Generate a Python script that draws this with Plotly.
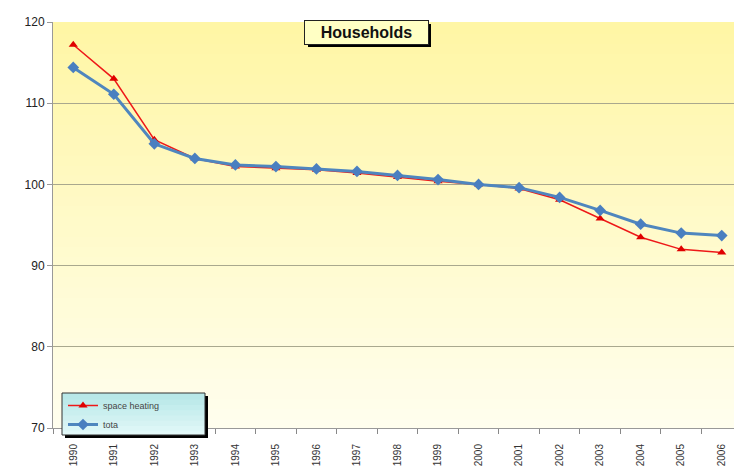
import plotly.graph_objects as go

years = [str(y) for y in range(1990, 2007)]
space_heating = [117.2, 113.0, 105.5, 103.2, 102.2, 102.0, 101.8, 101.4, 100.9, 100.4,
                 100.0, 99.5, 98.1, 95.8, 93.5, 92.0, 91.6]
total = [114.4, 111.1, 105.0, 103.2, 102.4, 102.2, 101.9, 101.6, 101.1, 100.6,
         100.0, 99.6, 98.4, 96.8, 95.1, 94.0, 93.7]
y_ticks = [70, 80, 90, 100, 110, 120]
title_text = "Households"

fig = go.Figure()
fig.add_trace(go.Scatter(x=years, y=space_heating, name="space heating", mode="lines+markers",
                         line=dict(color="#EE1818", width=1.5),
                         marker=dict(symbol="triangle-up", size=8, color="#E00000")))
fig.add_trace(go.Scatter(x=years, y=total, name="tota", mode="lines+markers",
                         line=dict(color="#4F86BE", width=3),
                         marker=dict(symbol="diamond", size=9, color="#4A7FC0")))

W, H = 689, 406  # plot area px


def px(x):
    return (x - 53) / W


def py(y):
    return (428 - y) / H


shapes = []
n = 40
top = (255, 246, 165)
bot = (255, 254, 238)
for i in range(n):
    t = i / (n - 1)
    c = tuple(int(round(bot[k] + (top[k] - bot[k]) * t)) for k in range(3))
    shapes.append(dict(type="rect", xref="paper", yref="paper", x0=0, x1=1,
                       y0=max(0, i / n - 0.004), y1=(i + 1) / n,
                       fillcolor="rgb(%d,%d,%d)" % c,
                       line=dict(width=0), layer="below"))
# legend shadow + box (vertical cyan gradient)
shapes.append(dict(type="rect", xref="paper", yref="paper",
                   x0=px(65), x1=px(208), y0=py(438), y1=py(396),
                   fillcolor="black", line=dict(width=0), layer="above"))
lt = (184, 232, 232)
lb = (226, 248, 248)
m = 8
for i in range(m):
    t = i / (m - 1)
    c = tuple(int(round(lb[k] + (lt[k] - lb[k]) * t)) for k in range(3))
    y0 = 435 - 42 * i / m + (1.5 if i > 0 else 0)
    y1 = 435 - 42 * (i + 1) / m
    shapes.append(dict(type="rect", xref="paper", yref="paper",
                       x0=px(62), x1=px(205), y0=py(y0), y1=py(y1),
                       fillcolor="rgb(%d,%d,%d)" % c, line=dict(width=0), layer="above"))
shapes.append(dict(type="rect", xref="paper", yref="paper",
                   x0=px(62), x1=px(205), y0=py(435), y1=py(393),
                   fillcolor="rgba(0,0,0,0)", line=dict(width=1, color="#333"), layer="above"))
# title shadow
shapes.append(dict(type="rect", xref="paper", yref="paper",
                   x0=px(308), x1=px(431), y0=py(47), y1=py(24),
                   fillcolor="black", line=dict(width=0), layer="above"))

fig.update_layout(
    width=734, height=459,
    margin=dict(l=45, r=0, t=14, b=39),
    paper_bgcolor="white", plot_bgcolor="rgba(0,0,0,0)",
    font=dict(family="Liberation Sans, Arial, sans-serif", color="#222"),
    shapes=shapes,
    showlegend=True,
    legend=dict(x=px(63), y=py(391), xanchor="left", yanchor="top",
                bgcolor="rgba(0,0,0,0)", borderwidth=0,
                font=dict(size=9, color="#444"), tracegroupgap=0, itemwidth=30),
    annotations=[dict(text="<b>" + title_text + "</b>", xref="paper", yref="paper",
                      x=px(366.5), y=py(32.5), xanchor="center", yanchor="middle",
                      showarrow=False,
                      font=dict(size=16, color="#111"), bgcolor="#FFFFC4",
                      bordercolor="#222", borderwidth=1, borderpad=2,
                      width=119, height=19)],
)
fig.update_xaxes(type="category", tickson="boundaries", ticks="outside", ticklen=5,
                 tickcolor="#888", showline=True, linecolor="#999", linewidth=1,
                 showgrid=False, tickangle=-90, ticklabelstandoff=11,
                 tickfont=dict(size=10, color="#333"),
                 range=[-0.5, 16.5], automargin=False)
fig.update_yaxes(range=[70, 120], tickvals=y_ticks, ticks="outside", ticklen=5,
                 tickcolor="#999", showline=True, linecolor="#999", linewidth=1,
                 showgrid=True, gridcolor="#A9A88E", gridwidth=1, zeroline=False,
                 tickfont=dict(size=12, color="#222"))

fig.write_html("out.html")
